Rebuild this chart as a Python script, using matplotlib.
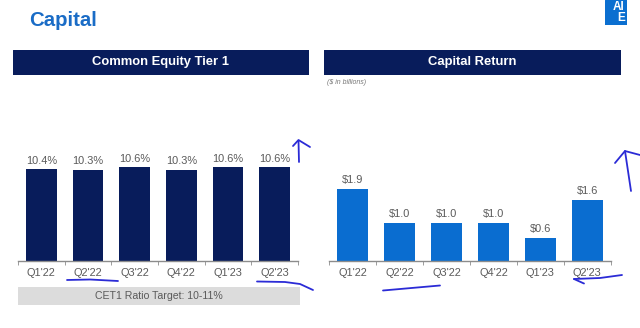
import matplotlib
matplotlib.use("Agg")
import matplotlib.pyplot as plt
from matplotlib.patches import Rectangle
from matplotlib.lines import Line2D
import numpy as np

plt.rcParams['font.family'] = ['Liberation Sans', 'DejaVu Sans']

# ---- data ----
quarters = ["Q1'22", "Q2'22", "Q3'22", "Q4'22", "Q1'23", "Q2'23"]
cet1_pct = [10.4, 10.3, 10.6, 10.3, 10.6, 10.6]
capital_return_bn = [1.9, 1.0, 1.0, 1.0, 0.6, 1.6]
page_title = "Capital"
left_title = "Common Equity Tier 1"
right_title = "Capital Return"
units_note = "($ in billions)"
target_note = "CET1 Ratio Target: 10-11%"

W, H = 640, 328
fig = plt.figure(figsize=(W / 100, H / 100), dpi=100)
fig.patch.set_facecolor('white')

def fx(x):
    return x / W

def fy(y):
    return 1 - y / H

def px_axes(x0, y0, x1, y1, **kw):
    return fig.add_axes([fx(x0), fy(y1), (x1 - x0) / W, (y1 - y0) / H], **kw)

NAVY = '#081c5b'
BLUE = '#0a6dd0'
GRAY_TXT = '#5a5a5a'
INK = '#2b2bd6'

# page title
fig.text(fx(29), fy(26), page_title, color='#1a6cc6', fontsize=14.7,
         fontweight='bold', va='baseline', ha='left')

# logo
logo = px_axes(605, 0, 627, 25)
logo.set_xlim(0, 1); logo.set_ylim(0, 1); logo.axis('off')
logo.add_patch(Rectangle((0, 0), 1, 1, color='#0b6fd0'))
logo.text(0.62, 0.70, 'AI', color='white', fontsize=8.5, fontweight='bold', ha='center', va='center')
logo.text(0.72, 0.28, 'E', color='white', fontsize=8.5, fontweight='bold', ha='center', va='center')

# header bands
for (x0, x1, title) in [(13, 309, left_title), (324, 621, right_title)]:
    hax = px_axes(x0, 50, x1, 75)
    hax.set_xlim(0, 1); hax.set_ylim(0, 1); hax.axis('off')
    hax.add_patch(Rectangle((0, 0), 1, 1, color=NAVY))
    hax.text(0.5, 0.5, title, color='white', fontsize=9.4, fontweight='bold',
             ha='center', va='center')

fig.text(fx(327), fy(83), units_note, fontsize=5, style='italic', color='#777777',
         ha='left', va='center')

def bar_panel(x0, x1, values, ymax, color, fmt):
    ax = px_axes(x0, 130, x1, 260.7)
    x = np.arange(len(values))
    bars = ax.bar(x, values, width=0.66, color=color)
    ax.set_xlim(-0.5, len(values) - 0.5)
    ax.set_ylim(0, ymax)
    for s in ['top', 'right', 'left']:
        ax.spines[s].set_visible(False)
    ax.spines['bottom'].set_color('#8c8c8c')
    ax.spines['bottom'].set_linewidth(1.0)
    ax.set_yticks([])
    ax.set_xticks(x)
    ax.set_xticklabels(quarters, fontsize=7.9, color=GRAY_TXT)
    ax.tick_params(axis='x', which='major', length=0, pad=5.5)
    ax.set_xticks(np.arange(-0.5, len(values)), minor=True)
    ax.tick_params(axis='x', which='minor', length=3, color='#8c8c8c', direction='out')
    ax.patch.set_alpha(0)
    for b, v in zip(bars, values):
        ax.annotate(fmt(v), (b.get_x() + b.get_width() / 2, v), xytext=(0, 4),
                    textcoords='offset points', ha='center', va='baseline',
                    fontsize=7.9, color=GRAY_TXT)
    return ax

bar_panel(18, 298, cet1_pct, 10.6 * 130.7 / 93.4, NAVY, lambda v: f"{v:.1f}%")
bar_panel(329.4, 610.6, capital_return_bn, 130.7 / 38.0, BLUE, lambda v: f"${v:.1f}")

# target box
tax = px_axes(18, 286.7, 300, 305)
tax.set_xlim(0, 1); tax.set_ylim(0, 1); tax.axis('off')
tax.add_patch(Rectangle((0, 0), 1, 1, color='#dcdcdc'))
tax.text(0.5, 0.5, target_note, fontsize=7.6, color=GRAY_TXT, ha='center', va='center')

# hand-drawn ink annotations (decorative strokes, pixel coords)
strokes = [
    [(299, 162), (298.5, 141)],
    [(293, 146), (298.5, 140), (310, 147)],
    [(67, 280), (90, 279.5), (118, 281)],
    [(257, 281.5), (285, 282), (300, 284), (313, 290)],
    [(631, 191), (625, 151)],
    [(615, 163), (625, 151), (640, 155)],
    [(383, 290.5), (440, 285.5)],
    [(622, 275), (600, 278), (574, 279)],
    [(574, 279), (584, 283.5)],
]
for s in strokes:
    xs = [fx(p[0]) for p in s]
    ys = [fy(p[1]) for p in s]
    fig.add_artist(Line2D(xs, ys, color=INK, linewidth=1.3, solid_capstyle='round'))

fig.savefig('out.png', dpi=100)
